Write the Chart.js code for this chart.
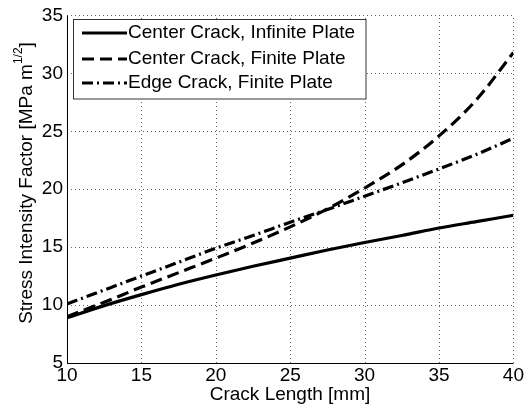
<!DOCTYPE html>
<html>
<head>
<meta charset="utf-8">
<script src="https://cdn.jsdelivr.net/npm/chart.js@4"></script>
<style>
  body { margin: 0; background: #fff; }
  canvas { display: block; }
</style>
</head>
<body>
<canvas id="sif-chart" width="525" height="414"></canvas>
<script>
const crackLength = [10, 12.5, 15, 17.5, 20, 22.5, 25, 27.5, 30, 32.5, 35, 37.5, 40];
const centerInfinite = [8.9, 9.95, 10.9, 11.8, 12.6, 13.35, 14.05, 14.75, 15.4, 16.0, 16.65, 17.2, 17.75];
const centerFinite = [9.0, 10.25, 11.55, 12.8, 14.05, 15.35, 16.75, 18.3, 20.1, 22.1, 24.6, 27.7, 31.8];
const edgeFinite = [10.1, 11.3, 12.5, 13.7, 14.9, 16.0, 17.15, 18.25, 19.4, 20.55, 21.75, 23.0, 24.4];

const seriesLabels = ["Center Crack, Infinite Plate", "Center Crack, Finite Plate", "Edge Crack, Finite Plate"];
const xTitle = "Crack Length [mm]";
const yTitle = "Stress Intensity Factor [MPa m";
const yTitleSup = "1/2";

const FONT = "Liberation Sans, Arial, sans-serif";

function points(ys) {
  return crackLength.map((x, i) => ({ x: x, y: ys[i] }));
}

function lineSet(label, ys, dash) {
  return {
    label: label,
    data: points(ys),
    borderColor: "#000",
    borderWidth: 3.2,
    borderDash: dash,
    pointRadius: 0,
    fill: false,
    cubicInterpolationMode: "monotone"
  };
}

// dotted MATLAB grid, drawn from the scale ticks
const dottedGrid = {
  id: "dottedGrid",
  beforeDatasetsDraw(chart) {
    const ctx = chart.ctx;
    const area = chart.chartArea;
    const xs = chart.scales.x, ys = chart.scales.y;
    ctx.save();
    ctx.strokeStyle = "#666";
    ctx.lineWidth = 1;
    ctx.setLineDash([1, 3]);
    xs.ticks.forEach(t => {
      const px = Math.round(xs.getPixelForValue(t.value)) + 0.5;
      ctx.beginPath();
      ctx.moveTo(px, area.bottom);
      ctx.lineTo(px, area.top);
      ctx.stroke();
    });
    ys.ticks.forEach(t => {
      const py = Math.round(ys.getPixelForValue(t.value)) + 0.5;
      ctx.beginPath();
      ctx.moveTo(area.left, py);
      ctx.lineTo(area.right, py);
      ctx.stroke();
    });
    ctx.setLineDash([]);
    ctx.strokeStyle = "#000";
    ctx.beginPath();
    ctx.moveTo(Math.round(area.left) + 0.5, area.top);
    ctx.lineTo(Math.round(area.left) + 0.5, Math.round(area.bottom) + 0.5);
    ctx.lineTo(area.right, Math.round(area.bottom) + 0.5);
    ctx.stroke();
    ctx.restore();
  }
};

// MATLAB-style boxed legend and the axis titles
const extras = {
  id: "extras",
  afterDatasetsDraw(chart) {
    const ctx = chart.ctx;
    ctx.save();

    ctx.fillStyle = "#fff";
    ctx.fillRect(73.5, 19.5, 292.5, 79.5);
    ctx.strokeStyle = "#333";
    ctx.lineWidth = 1;
    ctx.strokeRect(73.5, 19.5, 292.5, 79.5);

    const rows = [33, 59, 83];
    chart.data.datasets.forEach((ds, i) => {
      ctx.strokeStyle = "#000";
      ctx.lineWidth = 3.2;
      ctx.setLineDash(ds.borderDash || []);
      ctx.beginPath();
      ctx.moveTo(82, rows[i]);
      ctx.lineTo(127, rows[i]);
      ctx.stroke();
      ctx.setLineDash([]);
      ctx.fillStyle = "#000";
      ctx.font = "19px " + FONT;
      ctx.textBaseline = "middle";
      ctx.textAlign = "left";
      ctx.fillText(ds.label, 128, rows[i]);
    });

    ctx.font = "19px " + FONT;
    ctx.textAlign = "center";
    ctx.textBaseline = "middle";
    ctx.fillText(xTitle, 290, 395);

    ctx.translate(27, 183);
    ctx.rotate(-Math.PI / 2);
    ctx.textAlign = "left";
    ctx.font = "19px " + FONT;
    const w1 = ctx.measureText(yTitle).width;
    const w3 = ctx.measureText("]").width;
    ctx.font = "12px " + FONT;
    const w2 = ctx.measureText(yTitleSup).width;
    let x = -(w1 + w2 + w3) / 2;
    ctx.font = "19px " + FONT;
    ctx.fillText(yTitle, x, 0);
    x += w1;
    ctx.font = "12px " + FONT;
    ctx.fillText(yTitleSup, x, -8);
    x += w2;
    ctx.font = "19px " + FONT;
    ctx.fillText("]", x, 0);

    ctx.restore();
  }
};

const ctx = document.getElementById("sif-chart");

const sifChart = new Chart(ctx, {
  type: "line",
  data: {
    datasets: [
      lineSet(seriesLabels[0], centerInfinite, []),
      lineSet(seriesLabels[1], centerFinite, [12, 6]),
      lineSet(seriesLabels[2], edgeFinite, [11, 4, 2, 4])
    ]
  },
  options: {
    responsive: false,
    animation: false,
    layout: { padding: { top: 13, right: 11, left: 0, bottom: 0 } },
    plugins: {
      legend: { display: false },
      tooltip: { enabled: false }
    },
    scales: {
      x: {
        type: "linear",
        min: 10,
        max: 40,
        ticks: { stepSize: 5, color: "#000", font: { family: FONT, size: 19 }, padding: 1, maxRotation: 0 },
        grid: { display: false, drawTicks: false },
        border: { display: false },
        afterFit(scale) { scale.height = 51; }
      },
      y: {
        type: "linear",
        min: 5,
        max: 35,
        ticks: { stepSize: 5, color: "#000", font: { family: FONT, size: 19 }, padding: 4 },
        grid: { display: false, drawTicks: false },
        border: { display: false },
        afterFit(scale) { scale.width = 67; }
      }
    }
  },
  plugins: [dottedGrid, extras]
});
</script>
</body>
</html>
